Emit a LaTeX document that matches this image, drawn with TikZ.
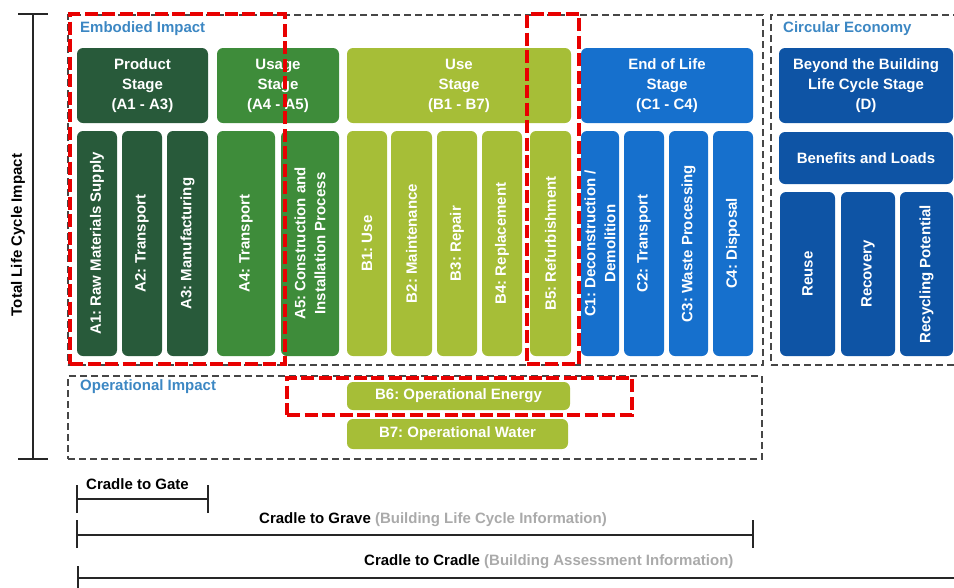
\documentclass[tikz,border=0pt]{standalone}
\usepackage{fontspec}
\setmainfont{Liberation Sans}
\frenchspacing
\definecolor{dgreen}{RGB}{40,90,58}
\definecolor{mgreen}{RGB}{62,140,58}
\definecolor{lime}{RGB}{166,190,55}
\definecolor{eolblue}{RGB}{22,112,205}
\definecolor{dblue}{RGB}{14,84,165}
\definecolor{lblue}{RGB}{60,135,195}
\definecolor{redc}{RGB}{232,0,0}
\definecolor{gdash}{RGB}{70,70,70}
\definecolor{gtext}{RGB}{170,170,170}
\newcommand\stagebox[7]{\node[box, fill=#6, minimum width={(#3-#2)*1pt}, minimum height={(#5-#4)*1pt}] (#1) at ({(#2+#3)/2},{(#4+#5)/2}) {#7};}
\newcommand\colbx[7]{\node[box, fill=#6, rotate=90, minimum width={(#5-#4)*1pt}, minimum height={(#3-#2)*1pt}] (#1) at ({(#2+#3)/2},{(#4+#5)/2}) {#7};}
\begin{document}
\begin{tikzpicture}[x=1pt,y=-1pt,
  font=\fontsize{15}{20}\selectfont\bfseries,
  box/.style={rounded corners=6pt, text=white, align=center, inner sep=0pt, draw=none},
  gbox/.style={draw=gdash, dash pattern=on 7pt off 4pt, line width=1.4pt},
  rbox/.style={draw=redc, dash pattern=on 13pt off 4.5pt, line width=4pt},
  lbl/.style={text=lblue, anchor=west, inner sep=0pt},
  bar/.style={line width=1.8pt, black!85}]
\useasboundingbox (0,0) rectangle (954,587);
% dashed group frames
\node[gbox, minimum width=695pt, minimum height=350pt, inner sep=0pt] (embodied) at (415.5,190) {};
\node[gbox, minimum width=200pt, minimum height=350pt, inner sep=0pt] (circular) at (871,190) {};
\node[gbox, minimum width=694pt, minimum height=83pt, inner sep=0pt] (operational) at (415,417.5) {};
\node[lbl] (lemb) at (80,29) {Embodied Impact};
\node[lbl] (lcirc) at (783,29) {Circular Economy};
\node[lbl] (lop) at (80,387) {Operational Impact};
% stage headers
\stagebox{prod}{77}{208}{48}{123}{dgreen}{Product\\Stage\\(A1 - A3)}
\stagebox{usage}{217}{339}{48}{123}{mgreen}{Usage\\Stage\\(A4 - A5)}
\stagebox{use}{347}{571}{48}{123}{lime}{Use\\Stage\\(B1 - B7)}
\stagebox{eol}{581}{753}{48}{123}{eolblue}{End of Life\\Stage\\(C1 - C4)}
\stagebox{beyond}{779}{953}{48}{123}{dblue}{Beyond the Building\\Life Cycle Stage\\(D)}
\stagebox{benef}{779}{953}{132}{184}{dblue}{Benefits and Loads}
% modules
\colbx{a1}{77}{117}{131}{356}{dgreen}{A1: Raw Materials Supply}
\colbx{a2}{122}{162}{131}{356}{dgreen}{A2: Transport}
\colbx{a3}{167}{208}{131}{356}{dgreen}{A3: Manufacturing}
\colbx{a4}{217}{275}{131}{356}{mgreen}{A4: Transport}
\colbx{a5}{281}{339}{131}{356}{mgreen}{A5: Construction and\\Installation Process}
\colbx{b1}{347}{387}{131}{356}{lime}{B1: Use}
\colbx{b2}{391}{432}{131}{356}{lime}{B2: Maintenance}
\colbx{b3}{437}{477}{131}{356}{lime}{B3: Repair}
\colbx{b4}{482}{522}{131}{356}{lime}{B4: Replacement}
\colbx{b5}{530}{571}{131}{356}{lime}{B5: Refurbishment}
\colbx{c1}{581}{619}{131}{356}{eolblue}{\fontsize{15}{17}\selectfont C1: Deconstruction /\\Demolition}
\colbx{c2}{624}{664}{131}{356}{eolblue}{C2: Transport}
\colbx{c3}{669}{708}{131}{356}{eolblue}{C3: Waste Processing}
\colbx{c4}{713}{753}{131}{356}{eolblue}{C4: Disposal}
\colbx{reuse}{780}{835}{192}{356}{dblue}{Reuse}
\colbx{recov}{841}{895}{192}{356}{dblue}{Recovery}
\colbx{recyc}{900}{953}{192}{356}{dblue}{Recycling Potential}
\stagebox{b6}{347}{570}{382}{410}{lime}{B6: Operational Energy}
\stagebox{b7}{347}{568}{419}{449}{lime}{B7: Operational Water}
% red highlight frames
\node[rbox, minimum width=215pt, minimum height=350pt, inner sep=0pt] (r1) at (177.5,189) {};
\node[rbox, minimum width=52pt, minimum height=350pt, inner sep=0pt] (r2) at (553,189) {};
\node[rbox, minimum width=345pt, minimum height=37pt, inner sep=0pt] (r3) at (459.5,396) {};
% total life cycle bracket
\coordinate (tt) at (33,14);
\coordinate (tb) at (33,459);
\draw[bar] (tt) -- (tb);
\draw[bar] ([xshift=-15pt]tt) -- ([xshift=15pt]tt);
\draw[bar] ([xshift=-15pt]tb) -- ([xshift=15pt]tb);
\node[rotate=90, text=black, inner sep=0pt] (ltot) at (18,235) {Total Life Cycle Impact};
% scopes
\coordinate (g1) at (77,499); \coordinate (g2) at (208,499);
\draw[bar] (g1) -- (g2);
\draw[bar] ([yshift=-14pt]g1) -- ([yshift=14pt]g1);
\draw[bar] ([yshift=-14pt]g2) -- ([yshift=14pt]g2);
\node[anchor=west, inner sep=0pt] (lgate) at (86,484) {Cradle to Gate};
\coordinate (v1) at (77,535); \coordinate (v2) at (753,535);
\draw[bar] (v1) -- (v2);
\draw[bar] ([yshift=-13pt]v1) -- ([yshift=15pt]v1);
\draw[bar] ([yshift=-13pt]v2) -- ([yshift=15pt]v2);
\node[anchor=west, inner sep=0pt] (lgrave) at (259,520) {Cradle to Grave \textcolor{gtext}{(Building Life Cycle Information)}};
\coordinate (k1) at (78,578); \coordinate (k2) at (960,578);
\draw[bar] (k1) -- (k2);
\draw[bar] ([yshift=-13pt]k1) -- ([yshift=12pt]k1);
\node[anchor=west, inner sep=0pt] (lcradle) at (364,562) {Cradle to Cradle \textcolor{gtext}{(Building Assessment Information)}};
\end{tikzpicture}
\end{document}
